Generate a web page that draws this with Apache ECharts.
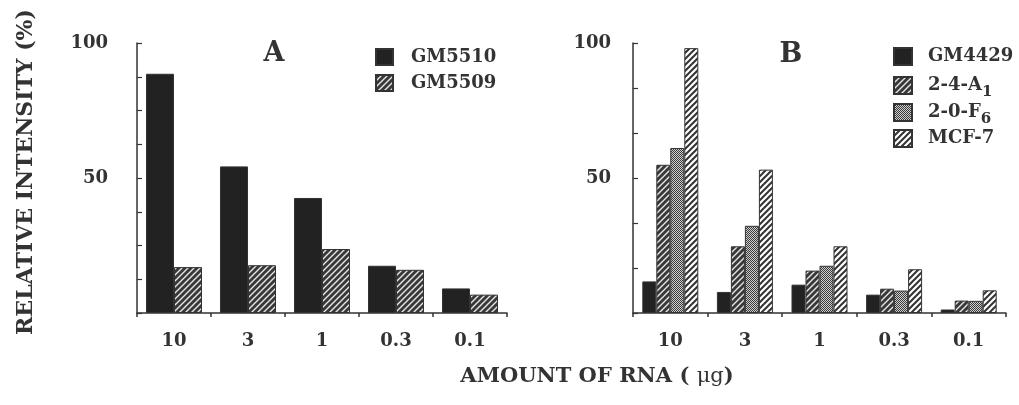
<!DOCTYPE html>
<html>
<head>
<meta charset="utf-8">
<script src="https://cdn.jsdelivr.net/npm/echarts@6/dist/echarts.min.js"></script>
<style>
  html, body { margin: 0; padding: 0; background: #fff; }
  #chart { width: 1019px; height: 405px; }
</style>
</head>
<body>
<div id="chart"></div>
<script>
// amount of RNA (ug) per lane
const categories = ['10', '3', '1', '0.3', '0.1']

// panel A
const gm5510 = [88.6, 54.3, 42.6, 17.5, 9.1]
const gm5509 = [17.0, 17.7, 23.7, 16.0, 6.8]

// panel B
const gm4429 = [11.7, 7.8, 10.5, 6.8, 1.3]
const a1 = [54.9, 24.7, 15.7, 9.0, 4.6]
const f6 = [61.1, 32.3, 17.5, 8.3, 4.5]
const mcf7 = [98.1, 53.1, 24.7, 16.2, 8.4]

// only these y values get a label
const yTickLabels = [50, 100]

const FONT = 'DejaVu Serif'
const INK = '#333'

function hatch(bg, fg, lw, step) {
  const c = document.createElement('canvas')
  c.width = c.height = step
  const g = c.getContext('2d')
  g.fillStyle = bg
  g.fillRect(0, 0, step, step)
  g.strokeStyle = fg
  g.lineWidth = lw
  g.beginPath()
  g.moveTo(0, step); g.lineTo(step, 0)
  g.moveTo(-step / 2, step / 2); g.lineTo(step / 2, -step / 2)
  g.moveTo(step / 2, step * 1.5); g.lineTo(step * 1.5, step / 2)
  g.stroke()
  return { image: c, repeat: 'repeat' }
}

function stipple() {
  const c = document.createElement('canvas')
  c.width = c.height = 2
  const g = c.getContext('2d')
  g.fillStyle = '#cfcfcf'
  g.fillRect(0, 0, 2, 2)
  g.fillStyle = '#3a3a3a'
  g.fillRect(0, 0, 1, 1)
  g.fillRect(1, 1, 1, 1)
  return { image: c, repeat: 'repeat' }
}

const solidFill = '#222'
const darkHatch = hatch('#383838', '#e6e6e6', 1.4, 6)
const lightHatch = hatch('#fff', '#333', 2, 6)
const dotFill = stipple()

const labelFont = { fontFamily: FONT, fontWeight: 'bold', fontSize: 18, color: INK }

function yAxis(idx, interval, margin) {
  return {
    gridIndex: idx,
    type: 'value',
    min: 0,
    max: 100,
    interval: interval,
    axisLine: { show: true, lineStyle: { color: INK, width: 1.5 } },
    axisTick: { show: true, inside: true, length: 5, lineStyle: { color: INK, width: 1.2 } },
    splitLine: { show: false },
    axisLabel: {
      ...labelFont,
      margin: margin,
      formatter: (v) => yTickLabels.some((t) => Math.abs(t - v) < 1e-6) ? String(Math.round(v)) : ''
    }
  }
}

function xAxis(idx) {
  return {
    gridIndex: idx,
    type: 'category',
    data: categories,
    axisLine: { lineStyle: { color: INK, width: 1.5 } },
    axisTick: { show: true, length: 4, lineStyle: { color: INK, width: 1.5 } },
    axisLabel: { ...labelFont, margin: 19 }
  }
}

function bar(name, data, fill, idx, width) {
  return {
    name: name,
    type: 'bar',
    xAxisIndex: idx,
    yAxisIndex: idx,
    data: data,
    barWidth: width,
    barGap: '0%',
    itemStyle: { color: fill, borderColor: INK, borderWidth: 1 }
  }
}

const legendText = {
  ...labelFont,
  rich: {
    sub: { fontFamily: FONT, fontWeight: 'bold', fontSize: 15, color: INK, padding: [14, 0, 0, 0] }
  }
}

function legend(name, left, top, w, h, pad) {
  return {
    data: [name],
    orient: 'vertical',
    left: left,
    top: top,
    padding: 0,
    itemWidth: w,
    itemHeight: h,
    icon: 'rect',
    selectedMode: false,
    textStyle: { ...legendText, padding: [0, 0, 0, pad] },
    formatter: (n) => n.replace(/^(2-[04]-[AF])(\d)$/, '$1{sub|$2}')
  }
}

const chart = echarts.init(document.getElementById('chart'), null, { renderer: 'canvas' })

chart.setOption({
  backgroundColor: '#fff',
  animation: false,
  grid: [
    { left: 137, top: 43, width: 370, height: 270 },
    { left: 633, top: 43, width: 373, height: 270 }
  ],
  xAxis: [xAxis(0), xAxis(1)],
  yAxis: [yAxis(0, 12.5, 29), yAxis(1, 100 / 6, 22)],
  legend: [
    legend('GM5510', 375, 48, 17, 16, 13),
    legend('GM5509', 375, 74, 17, 16, 13),
    legend('GM4429', 893, 47, 18, 17, 11),
    legend('2-4-A1', 893, 76, 18, 17, 11),
    legend('2-0-F6', 893, 103, 18, 17, 11),
    legend('MCF-7', 893, 129, 18, 17, 11)
  ],
  series: [
    bar('GM5510', gm5510, solidFill, 0, 28),
    bar('GM5509', gm5509, darkHatch, 0, 28),
    bar('GM4429', gm4429, solidFill, 1, 14),
    bar('2-4-A1', a1, darkHatch, 1, 14),
    bar('2-0-F6', f6, dotFill, 1, 14),
    bar('MCF-7', mcf7, lightHatch, 1, 14)
  ],
  graphic: [
    {
      type: 'text', x: 274, y: 54,
      style: { text: 'A', fill: INK, font: 'bold 27px "DejaVu Serif"', align: 'center', verticalAlign: 'middle' }
    },
    {
      type: 'text', x: 791, y: 55,
      style: { text: 'B', fill: INK, font: 'bold 27px "DejaVu Serif"', align: 'center', verticalAlign: 'middle' }
    },
    {
      type: 'text', x: 26, y: 172, rotation: Math.PI / 2,
      style: { text: 'RELATIVE INTENSITY (%)', fill: INK, font: 'bold 22px "DejaVu Serif"', align: 'center', verticalAlign: 'middle' }
    },
    {
      type: 'text', x: 597, y: 377,
      style: {
        text: '{b|AMOUNT OF RNA ( }{r|μg}{b|)}',
        align: 'center', verticalAlign: 'middle',
        rich: {
          b: { fontFamily: FONT, fontWeight: 'bold', fontSize: 21, fill: INK },
          r: { fontFamily: FONT, fontWeight: 'normal', fontSize: 21, fill: INK }
        }
      }
    }
  ]
})
</script>
</body>
</html>
